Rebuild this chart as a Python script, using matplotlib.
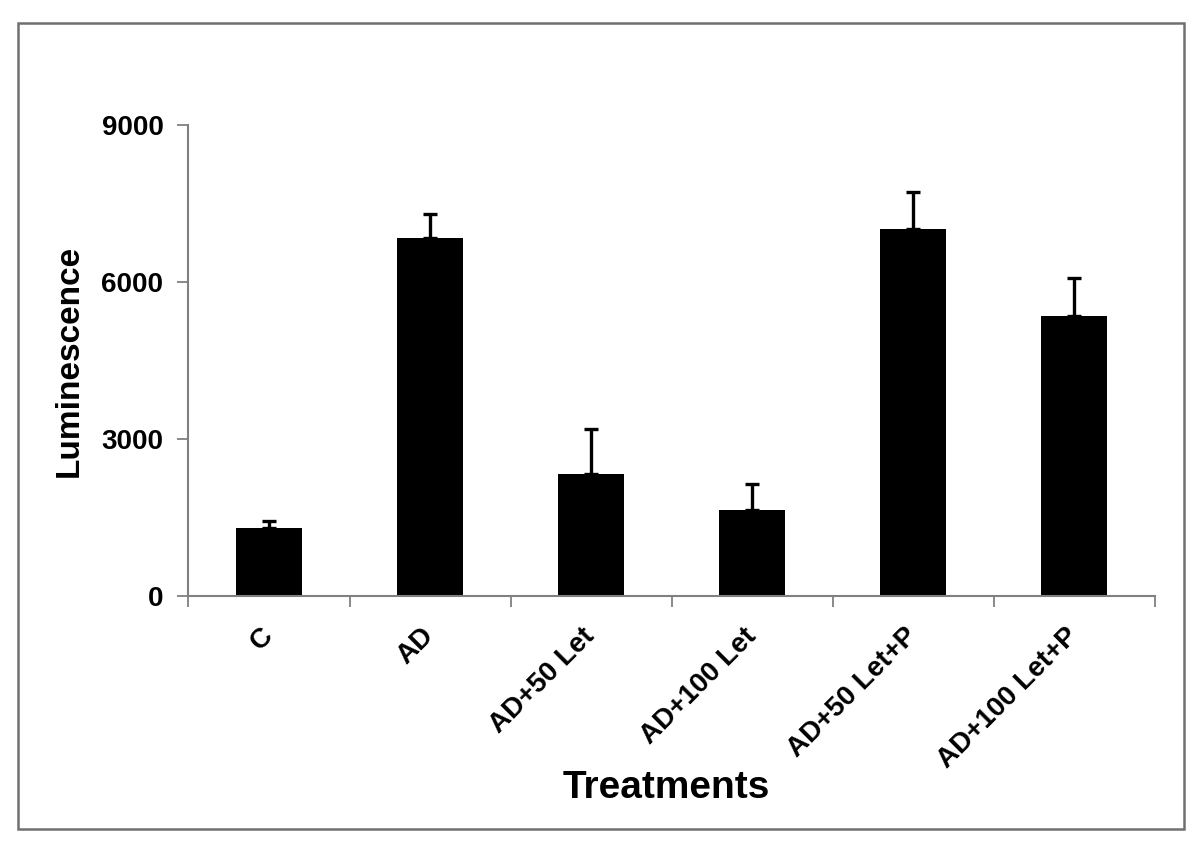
import matplotlib.pyplot as plt
import matplotlib.patches as patches
import numpy as np

plt.rcParams['font.family'] = ['Liberation Sans', 'DejaVu Sans']
plt.rcParams['font.weight'] = 'bold'

treatments = ['C', 'AD', 'AD+50 Let', 'AD+100 Let', 'AD+50 Let+P', 'AD+100 Let+P']
luminescence = [1300, 6840, 2330, 1645, 7010, 5350]
errors = [135, 460, 860, 495, 710, 725]
yticks = [0, 3000, 6000, 9000]

fig = plt.figure(figsize=(12, 8.52), dpi=100)
ax = fig.add_axes([0.157, 0.3005, 0.8055, 0.5525])

x = np.arange(len(treatments))
ax.bar(x, luminescence, 0.41, color='black', zorder=2)
ax.errorbar(x, luminescence, yerr=[np.zeros(len(errors)), errors], fmt='none',
            ecolor='black', elinewidth=2.4, capsize=5, capthick=2.4, zorder=3)

ax.set_xlim(-0.5, 5.5)
ax.set_ylim(0, 9000)
ax.set_yticks(yticks)
ax.set_yticklabels([str(v) for v in yticks], fontsize=20, fontweight='bold')

# labels at bar centers, tick marks between categories
ax.set_xticks(x)
ax.set_xticklabels(treatments, rotation=45, ha='right', va='center',
                   rotation_mode='anchor', fontsize=20, fontweight='bold')
ax.tick_params(axis='x', which='major', length=0, pad=26)
ax.set_xticks(np.arange(-0.5, 6, 1), minor=True)
ax.tick_params(axis='x', which='minor', length=8, width=1.3, color='#808080', direction='out')
ax.tick_params(axis='y', length=8, width=1.3, color='#808080', direction='out', pad=10)

for s in ['top', 'right']:
    ax.spines[s].set_visible(False)
for s in ['left', 'bottom']:
    ax.spines[s].set_color('#808080')
    ax.spines[s].set_linewidth(1.5)

ax.set_ylabel('Luminescence', fontsize=24, fontweight='bold', labelpad=12)
fig.text(0.555, 0.075, 'Treatments', fontsize=28, fontweight='bold',
         ha='center', va='center')

# outer frame
fig.patches.append(patches.Rectangle((18 / 1200, 1 - 829 / 852), (1184 - 18) / 1200,
                                     (829 - 23) / 852, transform=fig.transFigure,
                                     fill=False, edgecolor='#707070', linewidth=1.8))

fig.savefig('out.png', dpi=100)
